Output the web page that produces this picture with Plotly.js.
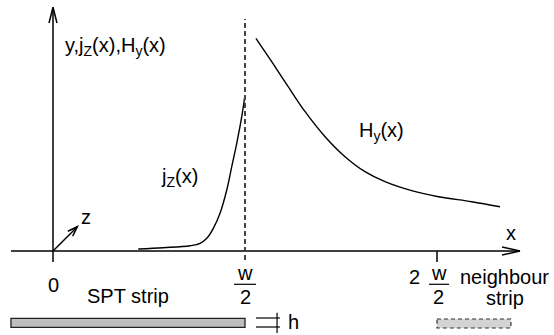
<!DOCTYPE html>
<html>
<head>
<meta charset="utf-8">
<script src="https://cdn.plot.ly/plotly-3.0.1.min.js"></script>
<style>html,body{margin:0;padding:0;background:#fff;}#chart{width:554px;height:335px;}</style>
</head>
<body>
<div id="chart"></div>
<script>
// x in units of w/2, y in arbitrary units
var jzX = [0.444, 0.574, 0.714, 0.766, 0.801, 0.835, 0.870, 0.905, 0.931, 0.957, 0.983, 1.0];
var jzY = [0.02, 0.033, 0.053, 0.077, 0.127, 0.227, 0.377, 0.61, 0.843, 1.077, 1.343, 1.56];
var hyX = [1.057, 1.139, 1.225, 1.313, 1.417, 1.521, 1.625, 1.729, 1.868, 2.007, 2.181, 2.328];
var hyY = [2.127, 1.893, 1.643, 1.393, 1.143, 0.943, 0.793, 0.693, 0.603, 0.543, 0.493, 0.443];
var tickLabels = ['0', 'w', '2', '2'];
var curveLabels = ['y,j<sub>Z</sub>(x),H<sub>y</sub>(x)', 'j<sub>Z</sub>(x)', 'H<sub>y</sub>(x)'];
var stripLabels = ['SPT strip', 'neighbour', 'strip', 'h'];

var FONT = {family: 'Liberation Sans, Arial, Helvetica, sans-serif', size: 20, color: '#000'};
var K = '#000';

var traces = [
  {x: jzX, y: jzY, mode: 'lines', line: {color: K, width: 1.4, shape: 'spline'}, hoverinfo: 'skip'},
  {x: hyX, y: hyY, mode: 'lines', line: {color: K, width: 1.4, shape: 'spline'}, hoverinfo: 'skip'}
];

function ln(x0, y0, x1, y1, extra) {
  var s = {type: 'line', xref: 'x', yref: 'y', x0: x0, y0: y0, x1: x1, y1: y1, line: {color: K, width: 1.5}};
  if (extra) for (var k in extra) s[k] = extra[k];
  return s;
}
function pth(p, w) {
  return {type: 'path', xref: 'x', yref: 'y', path: p, line: {color: K, width: w || 1.5}};
}

var shapes = [
  // x axis with open arrow
  ln(-0.219, 0, 2.432, 0),
  pth('M 2.339,0.04 L 2.432,0 L 2.339,-0.04'),
  // y axis with open arrow
  ln(0, -0.11, 0, 2.437),
  pth('M -0.0208,2.28 L 0,2.437 L 0.0208,2.28'),
  // z arrow
  ln(0, 0, 0.127, 0.243),
  pth('M 0.0771,0.197 L 0.127,0.243 L 0.1026,0.148'),
  // dashed w/2 line
  ln(1, -0.09, 1, 2.32, {line: {color: '#444', width: 2, dash: '5px,3px'}}),
  // tick at w
  ln(2, 0, 2, -0.11),
  // fraction bars
  ln(0.943, -0.333, 1.057, -0.333, {line: {color: K, width: 1.2}}),
  ln(1.958, -0.333, 2.063, -0.333, {line: {color: K, width: 1.2}}),
  // SPT strip
  {type: 'rect', xref: 'x', yref: 'y', x0: -0.219, x1: 1.0, y0: -0.673, y1: -0.763,
   fillcolor: '#bebebe', line: {color: '#222', width: 1.3}},
  // thickness marker
  ln(1.057, -0.67, 1.182, -0.67, {line: {color: K, width: 1.2}}),
  ln(1.057, -0.76, 1.182, -0.76, {line: {color: K, width: 1.2}}),
  ln(1.167, -0.617, 1.167, -0.82, {line: {color: K, width: 1.2}}),
  // neighbour strip
  {type: 'rect', xref: 'x', yref: 'y', x0: 2.0, x1: 2.385, y0: -0.68, y1: -0.77,
   fillcolor: '#d3d3d3', line: {color: '#333', width: 1.2, dash: '4px,3px'}}
];

function txt(t, x, y, xa, extra) {
  var a = {text: t, x: x, y: y, xref: 'x', yref: 'y', showarrow: false, xanchor: xa || 'center', yanchor: 'middle', font: FONT};
  if (extra) for (var k in extra) a[k] = extra[k];
  return a;
}

var annotations = [
  txt(curveLabels[0], 0.052, 2.05, 'left'),
  txt(curveLabels[1], 0.552, 0.74, 'left'),
  txt(curveLabels[2], 1.583, 1.20, 'left'),
  txt('z', 0.172, 0.34),
  txt('x', 2.385, 0.18),
  txt(tickLabels[0], 0, -0.34),
  txt(tickLabels[1], 1, -0.22),
  txt(tickLabels[2], 1, -0.46),
  txt(tickLabels[3], 1.885, -0.26),
  txt('w', 2.01, -0.22),
  txt('2', 2.01, -0.46),
  txt(stripLabels[0], 0.388, -0.45),
  txt(stripLabels[1], 2.354, -0.26),
  txt(stripLabels[2], 2.354, -0.47),
  txt(stripLabels[3], 1.25, -0.71)
];

var layout = {
  width: 554, height: 335,
  margin: {l: 0, r: 0, t: 0, b: 0},
  paper_bgcolor: '#fff', plot_bgcolor: '#fff',
  showlegend: false,
  xaxis: {range: [-53/192, 501/192], visible: false, fixedrange: true},
  yaxis: {range: [-0.84, 2.51], visible: false, fixedrange: true},
  shapes: shapes,
  annotations: annotations
};

Plotly.newPlot('chart', traces, layout, {staticPlot: true, displayModeBar: false});
</script>
</body>
</html>
